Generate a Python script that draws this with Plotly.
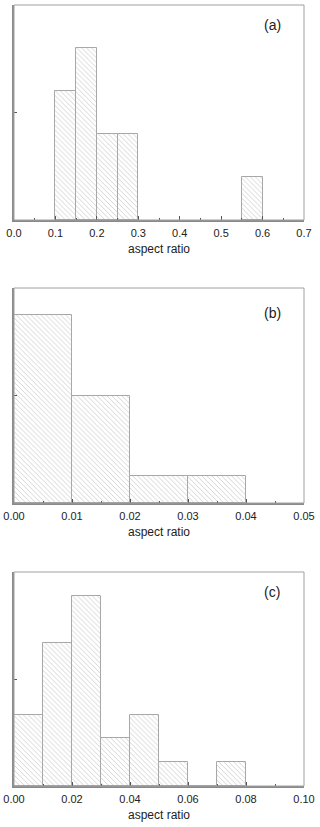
import plotly.graph_objects as go
from plotly.subplots import make_subplots

# histogram data (bin left edges, counts)
a_edges = [0.10, 0.15, 0.20, 0.25, 0.55]
a_counts = [3, 4, 2, 2, 1]
a_width = 0.05

b_edges = [0.00, 0.01, 0.02, 0.03]
b_counts = [7, 4, 1, 1]
b_width = 0.01

c_edges = [0.00, 0.01, 0.02, 0.03, 0.04, 0.05, 0.06, 0.07]
c_counts = [3, 6, 8, 2, 3, 1, 0, 1]
c_width = 0.01

panel_labels = ["(a)", "(b)", "(c)"]
x_title = "aspect ratio"

W, H = 320, 827
# panel pixel boxes (top, bottom)
boxes = [(5, 220), (288, 503), (572, 786)]
label_y = [0.905, 0.884, 0.906]

fig = make_subplots(rows=3, cols=1)

panels = [
    (a_edges, a_counts, a_width, [0, 0.7], 0.1, 0.05, 5, 2.5, ".1f"),
    (b_edges, b_counts, b_width, [0, 0.05], 0.01, 0.005, 8, 4, ".2f"),
    (c_edges, c_counts, c_width, [0, 0.10], 0.02, 0.01, 9, 4.5, ".2f"),
]

for i, (edges, counts, width, xr, dtick, mdtick, ymax, ydt, fmt) in enumerate(panels):
    row = i + 1
    fig.add_trace(go.Bar(
        x=edges, y=counts, width=width, offset=0,
        marker={
            "color": "white",
            "line": {"color": "#a8a8a8", "width": 1},
            "pattern": {"shape": "\\", "size": 3.5, "solidity": 0.25,
                        "fgcolor": "#a0a0a0", "bgcolor": "white"},
        },
        showlegend=False,
    ), row=row, col=1)

    top, bot = boxes[i]
    xname = "xaxis" if row == 1 else f"xaxis{row}"
    yname = "yaxis" if row == 1 else f"yaxis{row}"
    fig.layout[yname].domain = [1 - bot / H, 1 - top / H]
    fig.layout[xname].domain = [0, 1]

    fig.update_xaxes(
        range=xr, dtick=dtick, tick0=0, tickformat=fmt,
        ticks="inside", ticklen=4, tickwidth=1, tickcolor="#555",
        minor={"dtick": mdtick, "ticks": "inside", "ticklen": 2, "tickcolor": "#555"},
        showline=True, linecolor="#8a8a8a", linewidth=2,
        showgrid=False, zeroline=False, automargin=False,
        ticklabelstandoff=2,
        tickfont={"size": 11, "color": "#222"},
        title={"text": x_title, "font": {"size": 12, "color": "#222"}, "standoff": 6},
        row=row, col=1,
    )
    fig.update_yaxes(
        range=[0, ymax], dtick=ydt, tick0=0,
        ticks="inside", ticklen=3, tickcolor="#555",
        showticklabels=False, showline=True, linecolor="#8a8a8a", linewidth=2,
        showgrid=False, zeroline=False, automargin=False,
        row=row, col=1,
    )

    xd = "x domain" if row == 1 else f"x{row} domain"
    yd = "y domain" if row == 1 else f"y{row} domain"
    fig.add_shape(type="rect", xref=xd, yref=yd, x0=0, x1=1, y0=0, y1=1,
                  line={"color": "#a0a0a0", "width": 1})
    fig.add_annotation(text=panel_labels[i], xref=xd, yref=yd,
                       x=0.89, y=label_y[i], xanchor="center", yanchor="middle",
                       showarrow=False, font={"size": 14, "color": "#222"})

fig.update_layout(
    width=W, height=H,
    margin={"l": 14, "r": 16, "t": 0, "b": 0},
    plot_bgcolor="white", paper_bgcolor="white",
    font={"family": "Liberation Sans, Arial, sans-serif"},
    bargap=0,
)

# page body margin would shift the figure; drop it
fig.write_html("out.html", config={"displayModeBar": False},
               post_script="document.body.style.margin='0';")
